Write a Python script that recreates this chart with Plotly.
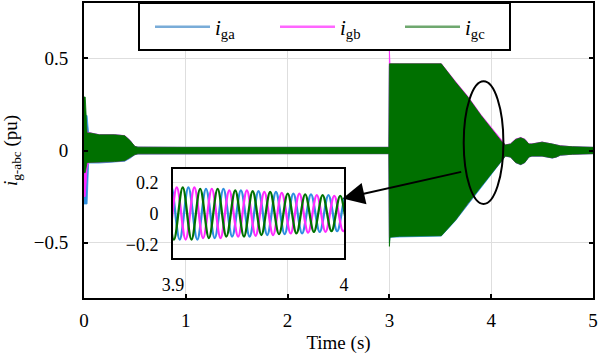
import plotly.graph_objects as go

# ---------------- main plot: envelope knots ----------------
env_t = [0.000, 0.012, 0.030, 0.045, 0.060, 0.150, 0.300, 0.400, 0.450, 0.500, 0.530,
         1.000, 2.000, 2.995, 3.000, 3.006, 3.100, 3.510, 3.650, 3.770, 3.900, 4.000,
         4.100, 4.140, 4.190, 4.240, 4.290, 4.330, 4.370, 4.400, 4.500, 4.600, 4.640,
         4.680, 4.800, 4.900, 5.000]

ga_up = [0.19, 0.19, 0.19, 0.095, 0.095, 0.085, 0.085, 0.080, 0.055, 0.022, 0.018,
         0.017, 0.017, 0.017, 0.46, 0.465, 0.465, 0.465, 0.365, 0.285, 0.185, 0.115,
         0.05, 0.03, 0.035, 0.06, 0.069, 0.06, 0.035, 0.035, 0.045, 0.035, 0.03,
         0.025, 0.02, 0.018, 0.017]
ga_lo = [-0.29, -0.29, -0.29, -0.068, -0.068, -0.068, -0.063, -0.058, -0.043, -0.023, -0.019,
         -0.017, -0.017, -0.017, -0.50, -0.47, -0.466, -0.464, -0.380, -0.291, -0.199, -0.130,
         -0.059, -0.031, -0.036, -0.066, -0.077, -0.066, -0.036, -0.031, -0.031, -0.041, -0.036,
         -0.026, -0.02, -0.018, -0.017]

gb_up = [0.19, 0.19, 0.10, 0.096, 0.096, 0.086, 0.086, 0.081, 0.056, 0.022, 0.018,
         0.017, 0.017, 0.017, 0.54, 0.47, 0.47, 0.471, 0.374, 0.294, 0.194, 0.124,
         0.053, 0.031, 0.036, 0.062, 0.071, 0.062, 0.036, 0.036, 0.046, 0.036, 0.031,
         0.026, 0.02, 0.018, 0.017]
gb_lo = [-0.25, -0.25, -0.10, -0.065, -0.065, -0.065, -0.060, -0.055, -0.040, -0.022, -0.018,
         -0.017, -0.017, -0.017, -0.47, -0.465, -0.46, -0.458, -0.373, -0.284, -0.192, -0.123,
         -0.055, -0.03, -0.035, -0.065, -0.076, -0.065, -0.035, -0.03, -0.03, -0.04, -0.035,
         -0.025, -0.02, -0.018, -0.017]

gc_up = [0.29, 0.29, 0.095, 0.095, 0.095, 0.085, 0.085, 0.080, 0.055, 0.022, 0.018,
         0.017, 0.017, 0.017, 0.47, 0.47, 0.47, 0.47, 0.37, 0.29, 0.19, 0.12,
         0.05, 0.03, 0.035, 0.06, 0.069, 0.06, 0.035, 0.035, 0.045, 0.035, 0.03,
         0.025, 0.02, 0.018, 0.017]
gc_lo = [-0.12, -0.12, -0.065, -0.065, -0.065, -0.065, -0.060, -0.055, -0.040, -0.022, -0.018,
         -0.017, -0.017, -0.017, -0.52, -0.47, -0.465, -0.462, -0.377, -0.288, -0.196, -0.127,
         -0.057, -0.03, -0.035, -0.065, -0.076, -0.065, -0.035, -0.03, -0.03, -0.04, -0.035,
         -0.025, -0.02, -0.018, -0.017]

# ---------------- inset (3.9 s - 4.0 s): extrema ----------------
ia_t = [3.8937, 3.8988, 3.9039, 3.9090, 3.9142, 3.9193, 3.9244, 3.9295, 3.9346, 3.9397,
        3.9448, 3.9500, 3.9551, 3.9602, 3.9653, 3.9704, 3.9755, 3.9807, 3.9858, 3.9909,
        3.9960, 4.0011, 4.0062]
ia_v = [-0.18, 0.18, -0.17, 0.17, -0.17, 0.16, -0.16, 0.16, -0.15, 0.15,
        -0.15, 0.145, -0.14, 0.14, -0.135, 0.13, -0.13, 0.125, -0.12, 0.12,
        -0.115, 0.115, -0.11]

ib_t = [3.8920, 3.8971, 3.9022, 3.9074, 3.9125, 3.9176, 3.9227, 3.9278, 3.9329, 3.9381,
        3.9432, 3.9483, 3.9534, 3.9585, 3.9636, 3.9688, 3.9739, 3.9790, 3.9841, 3.9892,
        3.9943, 3.9995, 4.0046]
ib_v = [0.18, -0.18, 0.17, -0.17, 0.17, -0.16, 0.16, -0.16, 0.15, -0.15,
        0.15, -0.145, 0.14, -0.14, 0.135, -0.13, 0.13, -0.125, 0.12, -0.12,
        0.115, -0.115, 0.11]

ic_t = [3.8903, 3.8954, 3.9005, 3.9057, 3.9108, 3.9159, 3.9210, 3.9261, 3.9312, 3.9364,
        3.9415, 3.9466, 3.9517, 3.9568, 3.9620, 3.9671, 3.9722, 3.9773, 3.9824, 3.9875,
        3.9927, 3.9978, 4.0029, 4.0080]
ic_v = [-0.18, 0.18, -0.17, 0.17, -0.17, 0.16, -0.16, 0.16, -0.15, 0.15,
        -0.15, 0.145, -0.14, 0.14, -0.135, 0.13, -0.13, 0.125, -0.12, 0.12,
        -0.115, 0.115, -0.11, 0.11]

x_ticks = [0, 1, 2, 3, 4, 5]
y_ticks = [-0.5, 0, 0.5]
y_ticktext = ["\u22120.5", "0", "0.5"]
inset_x_ticks = [3.9, 4.0]
inset_x_ticktext = ["3.9", "4"]
inset_y_ticks = [-0.2, 0, 0.2]
inset_y_ticktext = ["\u22120.2", "0", "0.2"]

names = ["<i>i</i><sub>ga</sub>", "<i>i</i><sub>gb</sub>", "<i>i</i><sub>gc</sub>"]
colors = ["#2e8fe0", "#ff2cff", "#007000"]
legend_colors = ["#79acd8", "#ff66ff", "#6fa86f"]

FONT = "Liberation Serif"

fig = go.Figure()

for up, lo, col in [(ga_up, ga_lo, colors[0]), (gb_up, gb_lo, colors[1]), (gc_up, gc_lo, colors[2])]:
    fig.add_trace(go.Scatter(
        x=env_t + env_t[::-1], y=up + lo[::-1], mode="lines", fill="toself",
        fillcolor=col, line=dict(color=col, width=0.8), showlegend=False,
        hoverinfo="skip", xaxis="x", yaxis="y"))

for t, v, col in [(ia_t, ia_v, colors[0]), (ib_t, ib_v, colors[1]), (ic_t, ic_v, colors[2])]:
    fig.add_trace(go.Scatter(
        x=t, y=v, mode="lines", line=dict(color=col, width=2.3, shape="spline", smoothing=1.0),
        showlegend=False, hoverinfo="skip", xaxis="x2", yaxis="y2"))

for name, col in zip(names, legend_colors):
    fig.add_trace(go.Scatter(x=[None], y=[None], mode="lines", name=name,
                             line=dict(color=col, width=2.5), xaxis="x", yaxis="y"))

W, H = 600, 360
L, R, T, B = 84, 7, 3, 62
pw, ph = W - L - R, H - T - B

def px2paper_x(px):
    return (px - L) / pw

def py2paper_y(py):
    return 1 - (py - T) / ph

fig.update_layout(
    width=W, height=H,
    margin=dict(l=L, r=R, t=T, b=B, autoexpand=False),
    paper_bgcolor="white", plot_bgcolor="white",
    font=dict(family=FONT, size=19, color="black"),
    xaxis=dict(range=[0, 5], tickvals=x_ticks, ticks="inside", ticklen=4, tickwidth=1.5,
               tickcolor="black", showline=True, linecolor="black", linewidth=1.8,
               mirror="ticks", showgrid=True, gridcolor="#dedede", gridwidth=1,
               zeroline=False, ticklabelstandoff=4, automargin=False,
               title=dict(text="Time (s)", standoff=6, font=dict(size=19))),
    yaxis=dict(range=[-0.8, 0.8], tickvals=y_ticks, ticktext=y_ticktext, ticks="inside",
               ticklen=4, tickwidth=1.5, tickcolor="black", showline=True,
               linecolor="black", linewidth=1.8, mirror="ticks", showgrid=True,
               gridcolor="#dedede", gridwidth=1, zeroline=False, ticklabelstandoff=10,
               automargin=False,
               title=dict(text="<i>i</i><sub>g-abc</sub> (pu)", standoff=12, font=dict(size=19))),
    xaxis2=dict(domain=[px2paper_x(173), px2paper_x(344)], anchor="y2", range=[3.9, 4.0],
                tickvals=inset_x_ticks, ticktext=inset_x_ticktext, ticks="",
                showline=True, linecolor="black", linewidth=1.8, mirror=True,
                showgrid=False, zeroline=False, ticklabelstandoff=9, automargin=False,
                tickfont=dict(size=18)),
    yaxis2=dict(domain=[py2paper_y(258), py2paper_y(169)], anchor="x2", range=[-0.29, 0.29],
                tickvals=inset_y_ticks, ticktext=inset_y_ticktext, ticks="",
                showline=True, linecolor="black", linewidth=1.8, mirror=True,
                showgrid=True, gridcolor="#dedede", gridwidth=1, zeroline=False,
                ticklabelstandoff=9, tickfont=dict(size=18), automargin=False),
    legend=dict(orientation="h", x=px2paper_x(150), y=py2paper_y(27), xanchor="left",
                yanchor="middle", bgcolor="rgba(0,0,0,0)", borderwidth=0,
                itemwidth=55, entrywidth=55, entrywidthmode="pixels",
                font=dict(family=FONT, size=21)),
    showlegend=True,
)

fig.add_shape(type="rect", xref="paper", yref="paper",
              x0=px2paper_x(139), x1=px2paper_x(510), y0=py2paper_y(50), y1=py2paper_y(3),
              fillcolor="white", line=dict(color="black", width=2), layer="above")

fig.add_shape(type="circle", xref="x", yref="y", x0=3.73, x1=4.12, y0=-0.29, y1=0.375,
              line=dict(color="black", width=2), layer="above")

fig.add_annotation(x=2.54, y=-0.26, ax=3.72, ay=-0.114, xref="x", yref="y",
                   axref="x", ayref="y", text="", showarrow=True, arrowhead=2,
                   arrowsize=2.2, arrowwidth=2, arrowcolor="black", standoff=0)

fig.write_html("out.html", config={"displayModeBar": False},
               post_script="document.body.style.margin='0px';")
